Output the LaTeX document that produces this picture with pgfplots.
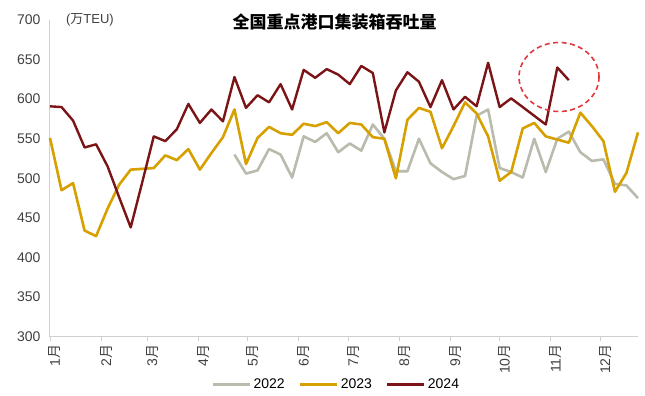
\documentclass[border=0pt]{standalone}
\usepackage{fontspec}
\setmainfont{Liberation Sans}
\newfontfamily\cjk{Noto Sans CJK SC}
\usepackage{pgfplots}
\pgfplotsset{compat=1.18}
\definecolor{c22}{HTML}{B9BBAD}
\definecolor{c23}{HTML}{D6A000}
\definecolor{c24}{HTML}{7B1416}
\definecolor{cring}{HTML}{E0383C}
\definecolor{axgray}{HTML}{D0D0D0}
\definecolor{txt}{HTML}{404040}
\newcommand\yue{{\cjk 月}}
\begin{document}
\begin{tikzpicture}
\path[use as bounding box] (-50pt,-59.3pt) rectangle (595pt,336.7pt);
\begin{axis}[
  at={(0,0)}, anchor=south west,
  scale only axis, width=588pt, height=316.7pt,
  xmin=0, xmax=51, ymin=300, ymax=700,
  axis x line*=bottom, axis y line*=left,
  axis line style={axgray, line width=1pt},
  ytick={300,350,...,700},
  xtick={0,4.4286,8.4286,12.857,17.143,21.571,25.857,30.286,34.714,39,43.429,47.714},
  xticklabels={1\yue,2\yue,3\yue,4\yue,5\yue,6\yue,7\yue,8\yue,9\yue,10\yue,11\yue,12\yue},
  xtick align=outside,
  major tick length=4pt,
  xtick style={axgray, line width=0.8pt},
  ytick style={draw=none},
  /pgf/number format/assume math mode=true,
  yticklabel style={font=\fontsize{14}{16}\selectfont, text=txt, xshift=-6pt},
  xticklabel style={font=\fontsize{14}{16}\selectfont, text=txt, rotate=90, anchor=east, yshift=-5pt},
  clip=false,
  legend style={at={(axis description cs:0.487,-0.152)}, anchor=center, draw=none, fill=none,
    legend columns=3, font=\fontsize{14}{16}\selectfont, text=black,
    /tikz/every even column/.append style={column sep=12pt}},
  legend cell align=left,
  legend image code/.code={\draw[#1, line width=3pt] (0pt,0pt) -- (37pt,0pt);},
  line join=round,
]
\addplot[c22, line width=2.6pt] coordinates {
(16,530)(17,506)(18,510)(19,537)(20,530)(21,501)(22,553)(23,546)(24,557)(25,533)
(26,544)(27,535)(28,568)(29,550)(30,509)(31,509)(32,550)(33,519)(34,508)(35,499)
(36,503)(37,579)(38,587)(39,513)(40,508)(41,501)(42,550)(43,508)(44,550)(45,559)
(46,533)(47,522)(48,524)(49,493)(50,491)(51,475)};
\addlegendentry{2022}
\addplot[c23, line width=2.6pt] coordinates {
(0,551)(1,485)(2,494)(3,434)(4,427)(5,462)(6,492)(7,511)(8,512)(9,513)
(10,529)(11,523)(12,537)(13,511)(14,532)(15,552)(16,587)(17,518)(18,551)(19,565)
(20,557)(21,555)(22,569)(23,566)(24,571)(25,557)(26,570)(27,568)(28,552)(29,550)
(30,500)(31,574)(32,589)(33,584)(34,538)(35,566)(36,596)(37,582)(38,553)(39,497)
(40,508)(41,563)(42,570)(43,553)(44,549)(45,545)(46,583)(47,566)(48,547)(49,483)
(50,507)(51,558)};
\addlegendentry{2023}
\addplot[c24, line width=2.4pt] coordinates {
(0,591)(1,590)(2,573)(3,539)(4,543)(5,515)(6,476)(7,438)(8,495)(9,553)
(10,547)(11,562)(12,594)(13,570)(14,587)(15,572)(16,628)(17,589)(18,605)(19,596)
(20,619)(21,587)(22,637)(23,627)(24,638)(25,631)(26,619)(27,642)(28,633)(29,558)
(30,611)(31,634)(32,622)(33,590)(34,624)(35,587)(36,603)(37,591)(38,646)(39,590)
(40,601)(41,590)(42,579)(43,568)(44,640)(45,624)};
\addlegendentry{2024}
\draw[cring, line width=1.6pt, dash pattern=on 5pt off 3.5pt] (axis cs:44.15,628) ellipse [x radius=40pt, y radius=34.5pt];
\node[font=\cjk\bfseries\fontsize{17}{20}\selectfont, text=black, yshift=-2pt] at (axis description cs:0.484,1) {全国重点港口集装箱吞吐量};
\node[font=\fontsize{13}{15}\selectfont, text=txt] at (axis description cs:0.068,1) {({\cjk 万}TEU)};
\end{axis}
\end{tikzpicture}
\end{document}
